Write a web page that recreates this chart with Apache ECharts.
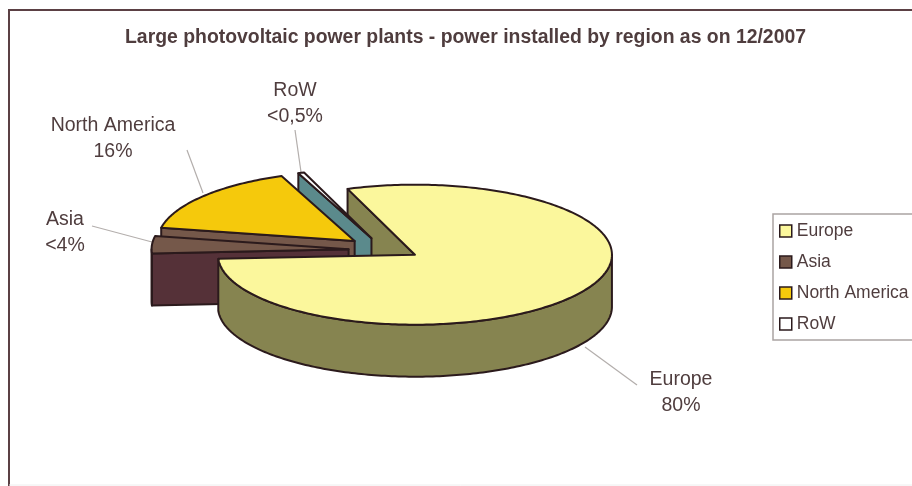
<!DOCTYPE html>
<html><head><meta charset="utf-8">
<style>html,body{margin:0;padding:0;background:#fff}#c{width:912px;height:486px}</style>
<script src="https://cdn.jsdelivr.net/npm/echarts@6/dist/echarts.min.js"></script>
</head><body><div id="c"></div>
<script>
const categories = ['Europe', 'Asia', 'North America', 'RoW'];
const values = [80, 4, 16, 0.5];
const shareLabels = ['80%', '<4%', '16%', '<0,5%'];
const titleText = 'Large photovoltaic power plants - power installed by region as on 12/2007';

// presentation
const explode = [0.2, 0.17, 0.18, 0.15];
const lift = [0, 3, 2, 1];
const topColors = ['#fbf79c', '#75584a', '#f5c90c', '#ffffff'];
const wallColors = ['#868450', '#553138', '#75584a', '#5b8a8c'];
const layerOrder = [0, 4, 3, 2];
const geo = {cx: 382, cy: 247, rx: 197, ry: 70, depth: 52, start: -20};
const edge = '#2b1a1c';
const textColor = '#4f3d3e';

const total = values.reduce((a, b) => a + b, 0);
const rad = d => d * Math.PI / 180;
function sliceAngles(i) {
  let a = geo.start;
  for (let k = 0; k < i; k++) a += values[k] / total * 360;
  return [a, a + values[i] / total * 360];
}
function sliceShapes(i) {
  const [a0, a1] = sliceAngles(i);
  const mid = (a0 + a1) / 2;
  const ax = geo.cx + explode[i] * geo.rx * Math.sin(rad(mid));
  const ay = geo.cy - explode[i] * geo.ry * Math.cos(rad(mid)) + lift[i];
  const pt = (t, d) => [ax + geo.rx * Math.sin(rad(t)), ay - geo.ry * Math.cos(rad(t)) + (d || 0)];
  const arc = [];
  const n = Math.max(2, Math.ceil(a1 - a0));
  for (let s = 0; s <= n; s++) arc.push(a0 + (a1 - a0) * s / n);
  const top = [[ax, ay]].concat(arc.map(t => pt(t)));
  const shapes = [];
  const style = c => ({fill: c, stroke: edge, lineWidth: 2, lineJoin: 'round'});
  const wallZ = layerOrder[i] * 2 + 1;
  const topZ = i === 0 ? 20 : wallZ + 1;
  const radial = [[ax, ay], pt(a0), pt(a0, geo.depth), [ax, ay + geo.depth]];
  shapes.push({type: 'polygon', z2: wallZ, shape: {points: radial}, style: style(wallColors[i])});
  const lo = Math.max(a0, 90), hi = Math.min(a1, 270);
  if (hi > lo) {
    const up = [], down = [];
    const m = Math.ceil(hi - lo);
    for (let s = 0; s <= m; s++) {
      const t = lo + (hi - lo) * s / m;
      up.push(pt(t)); down.unshift(pt(t, geo.depth));
    }
    const zr = i === 0 ? 19 : wallZ;
    shapes.push({type: 'polygon', z2: zr, shape: {points: up.concat(down)}, style: style(wallColors[i])});
  }
  shapes.push({type: 'polygon', z2: topZ, shape: {points: top}, style: style(topColors[i])});
  return shapes;
}

const labelSpots = [[681, 393], [65, 233], [113, 139], [295, 104]];
const leaders = [
  [[585, 347], [637, 385]],
  [[92, 226], [152, 242]],
  [[187, 150], [203, 193]],
  [[295, 130], [301, 172]]
];

const graphic = [
  {type: 'polyline', silent: true, z: 0, shape: {points: [[9, 486], [9, 10], [912, 10]]},
    style: {stroke: '#5b4044', lineWidth: 2, fill: null}},
  {type: 'line', silent: true, z: 0, shape: {x1: 9, y1: 485, x2: 912, y2: 485},
    style: {stroke: '#eeeeee', lineWidth: 1}}
];
categories.forEach((name, i) => {
  graphic.push({type: 'polyline', silent: true, z: 1, shape: {points: leaders[i]},
    style: {stroke: '#b3aeac', lineWidth: 1.2, fill: null}});
  graphic.push({type: 'text', silent: true, z: 5, x: labelSpots[i][0], y: labelSpots[i][1],
    style: {text: name + '\n' + shareLabels[i], fill: textColor, align: 'center', verticalAlign: 'middle',
      font: '19.5px "Liberation Sans"', lineHeight: 26}});
});

const series = categories.map((name, i) => ({
  type: 'custom', name, coordinateSystem: 'none', silent: true, animation: false,
  itemStyle: {color: topColors[i]},
  data: [{name, value: values[i]}],
  renderItem: () => ({type: 'group', children: sliceShapes(i)})
}));

const chart = echarts.init(document.getElementById('c'), null, {renderer: 'canvas'});
chart.setOption({
  animation: false,
  backgroundColor: '#ffffff',
  title: {text: titleText, left: 125, top: 28, padding: 0,
    textStyle: {fontFamily: 'Liberation Sans', fontWeight: 'bold', fontSize: 19.4, color: '#4f3d3e'}},
  legend: {
    data: categories, orient: 'vertical', left: 773, top: 214, icon: 'rect',
    itemWidth: 12, itemHeight: 12, itemGap: 13, padding: [8, 20, 7, 6],
    backgroundColor: '#ffffff', borderColor: '#aaa4a2', borderWidth: 1.5,
    itemStyle: {borderColor: edge, borderWidth: 1.5},
    selectedMode: false,
    textStyle: {fontFamily: 'Liberation Sans', fontSize: 17.5, color: textColor}
  },
  graphic,
  series
});
</script></body></html>
